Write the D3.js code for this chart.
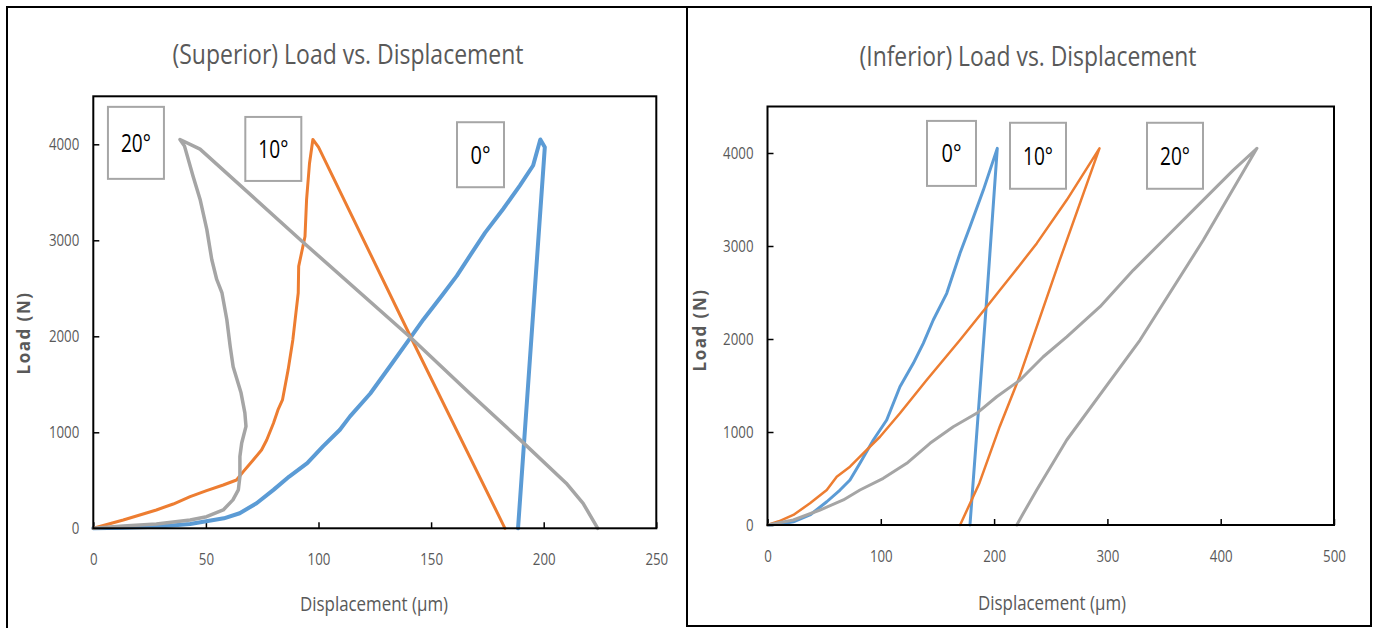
<!DOCTYPE html>
<html>
<head>
<meta charset="utf-8">
<script src="https://cdn.jsdelivr.net/npm/d3@7"></script>
<style>
  body { margin: 0; background: #fff; }
  svg text { font-family: "Liberation Sans Narrow", "Open Sans", sans-serif; }
</style>
</head>
<body>
<svg id="chart" width="1375" height="628"></svg>
<script>
// load (N) vs displacement (um): [displacement, load]
var sup0 = [[0,0],[13,6],[28,17],[43,45],[58,104],[65,157],[72.5,261],[80,400],[87,539],[95,679],[102,853],[109.5,1027],[114,1166],[123,1404],[131.5,1680],[140.6,1979],[146.6,2176],[155,2430],[161.4,2629],[167.2,2838],[174,3080],[182,3326],[189.4,3570],[195.3,3779],[198.5,4050],[200.5,3970],[194.8,2070],[188.6,0]];
var sup10 = [[0,0],[13.3,86],[28,191],[35.5,253],[43,329],[50.3,392],[57.7,451],[63.6,503],[66.6,590],[71,712],[74.7,816],[77,920],[80,1094],[82,1233],[84,1337],[86.5,1650],[88.6,1962],[90,2250],[91,2451],[91.2,2728],[94,3040],[94.7,3420],[96,3800],[97.5,4050],[100,3970],[141,1990],[182.8,0]];
var sup20 = [[0,0],[13.3,24],[28,45],[43,87],[50.3,121],[57.7,191],[62,296],[64.4,400],[65.1,539],[65.1,748],[65.9,888],[67.8,1062],[67.3,1202],[65.6,1411],[62.1,1682],[60.8,1891],[59.3,2173],[57.1,2456],[54.8,2592],[52.6,2800],[50.4,3114],[47.4,3428],[44.3,3668],[40.5,3981],[38.5,4050],[47.4,3950],[93.4,2975],[141,1985],[167,1410],[191,890],[210,470],[217.5,260],[224,0]];

var inf0 = [[0,0],[10,8],[22.8,35],[37.5,108],[52.3,250],[64,376],[72.8,484],[81.6,663],[93.4,914],[105.2,1129],[116.9,1487],[128.7,1738],[137.5,1953],[146.3,2204],[158.2,2491],[169.9,2921],[178.7,3207],[190.5,3601],[202.8,4050],[193,2350],[178.7,0]];
var inf10 = [[0,0],[10,40],[22.8,108],[37.5,233],[52.3,376],[61.1,519],[72.8,627],[81.6,734],[99.3,949],[116.9,1201],[140.5,1559],[169.9,1989],[193.5,2347],[205.2,2526],[217,2706],[237.6,3028],[264.1,3494],[293,4050],[258,2850],[222,1580],[205,1060],[187,450],[170,0]];
var inf20 = [[0,0],[22.8,54],[46.3,161],[66.9,269],[81.6,376],[102.2,502],[122.9,663],[143.4,878],[164,1057],[184.6,1201],[202.3,1379],[222.9,1559],[243.4,1809],[264.1,2024],[293.5,2347],[322.9,2741],[352.3,3099],[381.7,3458],[411.1,3816],[432,4050],[384.7,3064],[328.8,1989],[264.1,914],[237.6,376],[225.8,126],[220,0]];

var seriesNames = ["0°", "10°", "20°"];
var supTicksX = [0, 50, 100, 150, 200, 250];
var infTicksX = [0, 100, 200, 300, 400, 500];
var ticksY = [0, 1000, 2000, 3000, 4000];

var colors = {"0°": "#5b9bd5", "10°": "#ed7d31", "20°": "#a5a5a5"};

var svg = d3.select("#chart");

// panel frames
svg.append("path")
    .attr("d", "M7,628V7H687")
    .attr("fill", "none").attr("stroke", "#000").attr("stroke-width", 2);
svg.append("rect")
    .attr("x", 687).attr("y", 7).attr("width", 684).attr("height", 619)
    .attr("fill", "none").attr("stroke", "#000").attr("stroke-width", 2);

// narrow the fallback font to the width of the original's condensed face
function squeeze(sel, perChar) {
  sel.each(function () {
    var t = d3.select(this);
    t.attr("textLength", t.text().length * perChar).attr("lengthAdjust", "spacingAndGlyphs");
  });
}

function drawPanel(p) {
  var x = d3.scaleLinear().domain([0, p.xMax]).range([p.left, p.right]);
  var y = d3.scaleLinear().domain([0, 4500]).range([p.bottom, p.top]);
  var g = svg.append("g");

  g.append("text")
      .attr("x", p.titleX).attr("y", p.titleY)
      .attr("text-anchor", "middle")
      .attr("fill", "#595959")
      .style("font-size", "27px")
      .attr("textLength", p.titleLen)
      .attr("lengthAdjust", "spacingAndGlyphs")
      .text(p.title);

  var xAxis = d3.axisBottom(x).tickValues(p.ticksX).tickFormat(d3.format("d"))
      .tickSizeInner(-6).tickSizeOuter(0).tickPadding(p.xPad);
  var yAxis = d3.axisLeft(y).tickValues(ticksY).tickFormat(d3.format("d"))
      .tickSizeInner(-6).tickSizeOuter(0).tickPadding(14);

  var gx = g.append("g")
      .attr("transform", "translate(0," + p.bottom + ")")
      .call(xAxis);
  var gy = g.append("g")
      .attr("transform", "translate(" + p.left + ",0)")
      .call(yAxis);
  [gx, gy].forEach(function (a) {
    a.select(".domain").remove();
    a.selectAll("line").attr("stroke", "#000").attr("stroke-width", 1.5);
    a.selectAll("text").attr("fill", "#595959").style("font-size", "17px")
        .style("font-family", '"Liberation Sans Narrow", "Open Sans", sans-serif')
        .call(squeeze, 7.6);
  });

  var line = d3.line()
      .x(function(d) { return x(d[0]); })
      .y(function(d) { return y(d[1]); });

  p.series.forEach(function (s, i) {
    g.append("path")
        .datum(s)
        .attr("fill", "none")
        .attr("stroke", colors[seriesNames[i]])
        .attr("stroke-width", p.widths[i])
        .attr("stroke-linejoin", "round")
        .attr("stroke-linecap", "round")
        .attr("d", line);
  });

  // plot box
  g.append("rect")
      .attr("x", p.left).attr("y", p.top)
      .attr("width", p.right - p.left).attr("height", p.bottom - p.top)
      .attr("fill", "none").attr("stroke", "#000").attr("stroke-width", 2);

  // series labels in boxes
  p.labels.forEach(function (l) {
    var bx = x(l.x), by = y(l.y);
    g.append("rect")
        .attr("x", bx).attr("y", by).attr("width", l.w).attr("height", l.h)
        .attr("fill", "#fff").attr("stroke", "#a6a6a6").attr("stroke-width", 2);
    g.append("text")
        .attr("x", bx + l.w / 2).attr("y", by + l.h / 2 + 9)
        .attr("text-anchor", "middle")
        .style("font-size", "25px")
        .attr("fill", "#000")
        .text(l.name)
        .call(squeeze, 10);
  });

  g.append("text")
      .attr("x", p.xTitleX).attr("y", p.xTitleY)
      .attr("text-anchor", "middle")
      .attr("fill", "#595959")
      .style("font-size", "20px")
      .attr("textLength", 148)
      .attr("lengthAdjust", "spacingAndGlyphs")
      .text("Displacement (µm)");

  g.append("text")
      .attr("transform", "translate(" + p.yTitleX + "," + p.yTitleY + ") rotate(-90)")
      .attr("text-anchor", "middle")
      .attr("fill", "#595959")
      .style("font-size", "17px")
      .style("font-weight", "bold")
      .style("letter-spacing", "1.5px")
      .style("font-family", '"Open Sans", sans-serif')
      .text("Load (N)");
}

// label boxes on the right panel are anchored in displacement units
function infX(px) { return (px - 767.5) / (1334 - 767.5) * 500; }

drawPanel({
  title: "(Superior) Load vs. Displacement", titleX: 348, titleY: 64, titleLen: 351,
  xMax: 250, ticksX: supTicksX, left: 93.3, right: 656.3, top: 96.3, bottom: 528.3, xPad: 25,
  series: [sup0, sup10, sup20], widths: [4, 3, 3.5],
  labels: [
    {name: "20°", x: 6.5, y: 4390, w: 56, h: 72},
    {name: "10°", x: 67.5, y: 4285, w: 56, h: 64},
    {name: "0°", x: 161.5, y: 4230, w: 47, h: 65}
  ],
  xTitleX: 374, xTitleY: 611, yTitleX: 30, yTitleY: 333
});

drawPanel({
  title: "(Inferior) Load vs. Displacement", titleX: 1028, titleY: 66, titleLen: 337,
  xMax: 500, ticksX: infTicksX, left: 767.5, right: 1334, top: 106.5, bottom: 525, xPad: 25,
  series: [inf0, inf10, inf20], widths: [3, 2.5, 3],
  labels: [
    {name: "0°", x: infX(927), y: 4345, w: 49, h: 65},
    {name: "10°", x: infX(1010), y: 4325, w: 56, h: 66},
    {name: "20°", x: infX(1147), y: 4325, w: 56, h: 66}
  ],
  xTitleX: 1052, xTitleY: 610, yTitleX: 706, yTitleY: 330
});
</script>
</body>
</html>
